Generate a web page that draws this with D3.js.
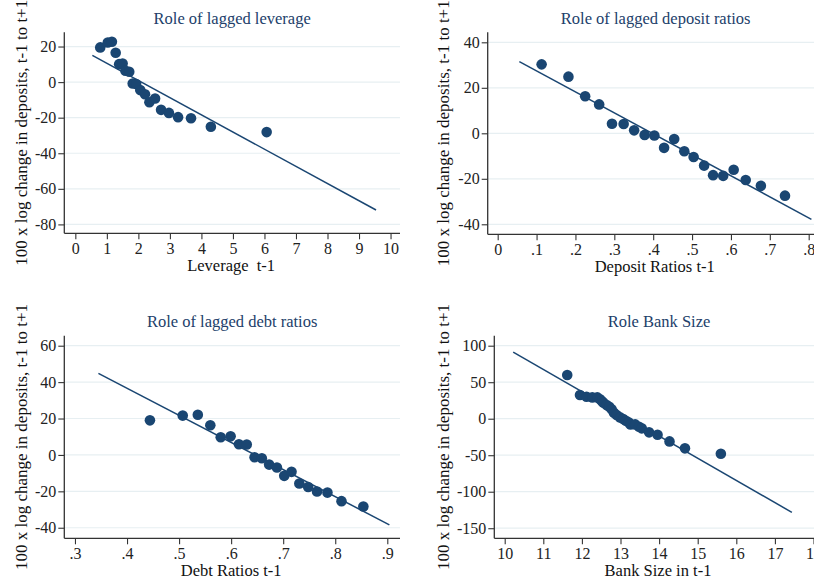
<!DOCTYPE html>
<html>
<head>
<meta charset="utf-8">
<script src="https://cdn.jsdelivr.net/npm/d3@7"></script>
<style>
  html, body { margin: 0; padding: 0; background: #fff; }
  svg { display: block; }
  text { font-family: "Liberation Serif", "Times New Roman", serif; }
</style>
</head>
<body>
<svg id="chart" width="814" height="581"></svg>
<script>
// ---- Binned scatter data: x = lagged bank characteristic, y = 100 x log change in deposits ----
const yLabel = "100 x log change in deposits, t-1 to t+1";

// Panel 1: lagged leverage
const leverageX = [0.79, 1.03, 1.16, 1.28, 1.39, 1.50, 1.59, 1.71, 1.82, 1.93, 2.06, 2.21, 2.35, 2.53, 2.72, 2.97, 3.26, 3.67, 4.30, 6.07];
const leverageY = [19.5, 22.3, 22.7, 16.5, 10.1, 10.5, 6.4, 5.8, -0.8, -1.1, -4.5, -6.8, -11.3, -9.2, -15.6, -17.3, -19.7, -20.3, -25.1, -28.1];
const leverageFitX = [0.54, 9.54];
const leverageFitY = [15.0, -71.9];
const leverageXTicks = [0, 1, 2, 3, 4, 5, 6, 7, 8, 9, 10];
const leverageYTicks = [-80, -60, -40, -20, 0, 20];

// Panel 2: lagged deposit ratios
const depositX = [0.113, 0.182, 0.225, 0.261, 0.294, 0.324, 0.351, 0.378, 0.403, 0.428, 0.454, 0.480, 0.504, 0.531, 0.554, 0.580, 0.607, 0.638, 0.677, 0.739];
const depositY = [30.3, 24.9, 16.3, 12.7, 4.2, 4.1, 1.3, -0.7, -1.0, -6.4, -2.5, -7.9, -10.4, -14.2, -18.4, -18.7, -16.0, -20.5, -23.1, -27.4];
const depositFitX = [0.0557, 0.807];
const depositFitY = [31.5, -37.8];
const depositXTicks = [0, 0.1, 0.2, 0.3, 0.4, 0.5, 0.6, 0.7, 0.8];
const depositYTicks = [-40, -20, 0, 20, 40];

// Panel 3: lagged debt ratios
const debtX = [0.444, 0.507, 0.536, 0.560, 0.580, 0.599, 0.615, 0.630, 0.645, 0.659, 0.673, 0.688, 0.702, 0.716, 0.731, 0.748, 0.765, 0.785, 0.812, 0.854];
const debtY = [19.0, 21.6, 22.1, 16.3, 9.7, 10.2, 5.9, 5.7, -1.3, -1.8, -5.3, -6.9, -11.5, -9.3, -15.7, -17.6, -20.1, -20.7, -25.4, -28.3];
const debtFitX = [0.345, 0.904];
const debtFitY = [44.8, -38.4];
const debtXTicks = [0.3, 0.4, 0.5, 0.6, 0.7, 0.8, 0.9];
const debtYTicks = [-40, -20, 0, 20, 40, 60];

// Panel 4: bank size
const sizeX = [11.62, 11.95, 12.12, 12.27, 12.40, 12.47, 12.52, 12.56, 12.64, 12.71, 12.77, 12.83, 12.90, 12.99, 13.07, 13.14, 13.21, 13.26, 13.38, 13.48, 13.55, 13.74, 13.96, 14.27, 14.67, 15.60];
const sizeY = [59.8, 32.4, 30.1, 29.2, 29.2, 26.5, 24.0, 21.9, 18.7, 16.4, 12.8, 8.2, 5.0, 1.8, -0.5, -2.7, -5.0, -7.8, -7.8, -11.0, -13.2, -18.7, -21.9, -31.1, -40.6, -47.9];
const sizeFitX = [10.22, 17.44];
const sizeFitY = [91.3, -128.3];
const sizeXTicks = [10, 11, 12, 13, 14, 15, 16, 17, 18];
const sizeYTicks = [-150, -100, -50, 0, 50, 100];

// Titles and axis titles
const titles = ["Role of lagged leverage", "Role of lagged deposit ratios", "Role of lagged debt ratios", "Role Bank Size"];
const xTitles = ["Leverage  t-1", "Deposit Ratios t-1", "Debt Ratios t-1", "Bank Size in t-1"];

// Stata-style number format: drop the leading zero on fractions (".3")
const stataFmt = v => {
  if (v === 0) return "0";
  const s = String(+v.toFixed(4));
  return s.replace(/^0\./, ".").replace(/^-0\./, "-.");
};

// ---- Panel layout (plot regions in pixels) ----
const panels = [
  { xs: leverageX, ys: leverageY, fx: leverageFitX, fy: leverageFitY, xt: leverageXTicks, yt: leverageYTicks,
    xd: [-0.35, 10.3], yd: [-85, 28], box: { l: 64.3, r: 400, t: 32.3, b: 233.3 }, ylx: 27 },
  { xs: depositX, ys: depositY, fx: depositFitX, fy: depositFitY, xt: depositXTicks, yt: depositYTicks,
    xd: [-0.0257, 0.8386], yd: [-44.4, 44.4], box: { l: 487.7, r: 823.7, t: 32.3, b: 234.3 }, ylx: 449 },
  { xs: debtX, ys: debtY, fx: debtFitX, fy: debtFitY, xt: debtXTicks, yt: debtYTicks,
    xd: [0.2795, 0.9244], yd: [-45.8, 65.5], box: { l: 64.3, r: 400, t: 335.7, b: 538.3 }, ylx: 27 },
  { xs: sizeX, ys: sizeY, fx: sizeFitX, fy: sizeFitY, xt: sizeXTicks, yt: sizeYTicks,
    xd: [9.7306, 18.264], yd: [-163.8, 113.7], box: { l: 494.3, r: 823.7, t: 335.7, b: 538.3 }, ylx: 449 }
];

const markColor = "#1a4672";
const gridColor = "#e7eff2";
const axisColor = "#333";
const titleColor = "#22406a";

const svg = d3.select("#chart");

panels.forEach((p, i) => {
  const { l, r, t, b } = p.box;
  const x = d3.scaleLinear().domain(p.xd).range([l, r]);
  const y = d3.scaleLinear().domain(p.yd).range([b, t]);
  const g = svg.append("g");

  // horizontal grid at y ticks
  g.append("g").selectAll("line").data(p.yt).join("line")
    .attr("x1", l).attr("x2", r)
    .attr("y1", d => y(d)).attr("y2", d => y(d))
    .attr("stroke", gridColor).attr("stroke-width", 1.2);

  // fitted line
  g.append("line")
    .attr("x1", x(p.fx[0])).attr("y1", y(p.fy[0]))
    .attr("x2", x(p.fx[1])).attr("y2", y(p.fy[1]))
    .attr("stroke", markColor).attr("stroke-width", 1.5);

  // binned points
  g.append("g").selectAll("circle").data(p.xs.map((v, k) => [v, p.ys[k]])).join("circle")
    .attr("cx", d => x(d[0])).attr("cy", d => y(d[1]))
    .attr("r", 5.3).attr("fill", markColor);

  // axes
  const xAxis = d3.axisBottom(x).tickValues(p.xt).tickFormat(stataFmt).tickSize(6).tickPadding(3).tickSizeOuter(0);
  const yAxis = d3.axisLeft(y).tickValues(p.yt).tickFormat(stataFmt).tickSize(6).tickPadding(2).tickSizeOuter(0);

  const gx = g.append("g").attr("transform", `translate(0,${b})`).call(xAxis);
  const gy = g.append("g").attr("transform", `translate(${l},0)`).call(yAxis);
  [gx, gy].forEach(a => {
    a.select(".domain").attr("stroke", axisColor).attr("stroke-width", 1.3);
    a.selectAll(".tick line").attr("stroke", axisColor).attr("stroke-width", 1.1);
    a.selectAll(".tick text").attr("fill", "#222").style("font-size", "16px")
      .style("font-family", "'Liberation Serif', 'Times New Roman', serif");
  });
  // extend axis lines across the full plot region
  gx.select(".domain").attr("d", `M${l},0H${r}`);
  gy.select(".domain").attr("d", `M0,${t}V${b}`);

  // title
  g.append("text")
    .attr("x", (l + r) / 2).attr("y", t - 8.5)
    .attr("text-anchor", "middle").attr("fill", titleColor)
    .style("font-size", "16.5px").text(titles[i]);

  // x axis title
  g.append("text")
    .attr("x", (l + r) / 2 - 1).attr("y", b + 38)
    .attr("text-anchor", "middle").attr("fill", "#111")
    .style("font-size", "16.5px").style("white-space", "pre")
    .attr("xml:space", "preserve").text(xTitles[i]);

  // y axis title
  g.append("text")
    .attr("transform", `translate(${p.ylx},${(t + b) / 2}) rotate(-90)`)
    .attr("text-anchor", "middle").attr("fill", "#111")
    .style("font-size", "17px").text(yLabel);
});
</script>
</body>
</html>
